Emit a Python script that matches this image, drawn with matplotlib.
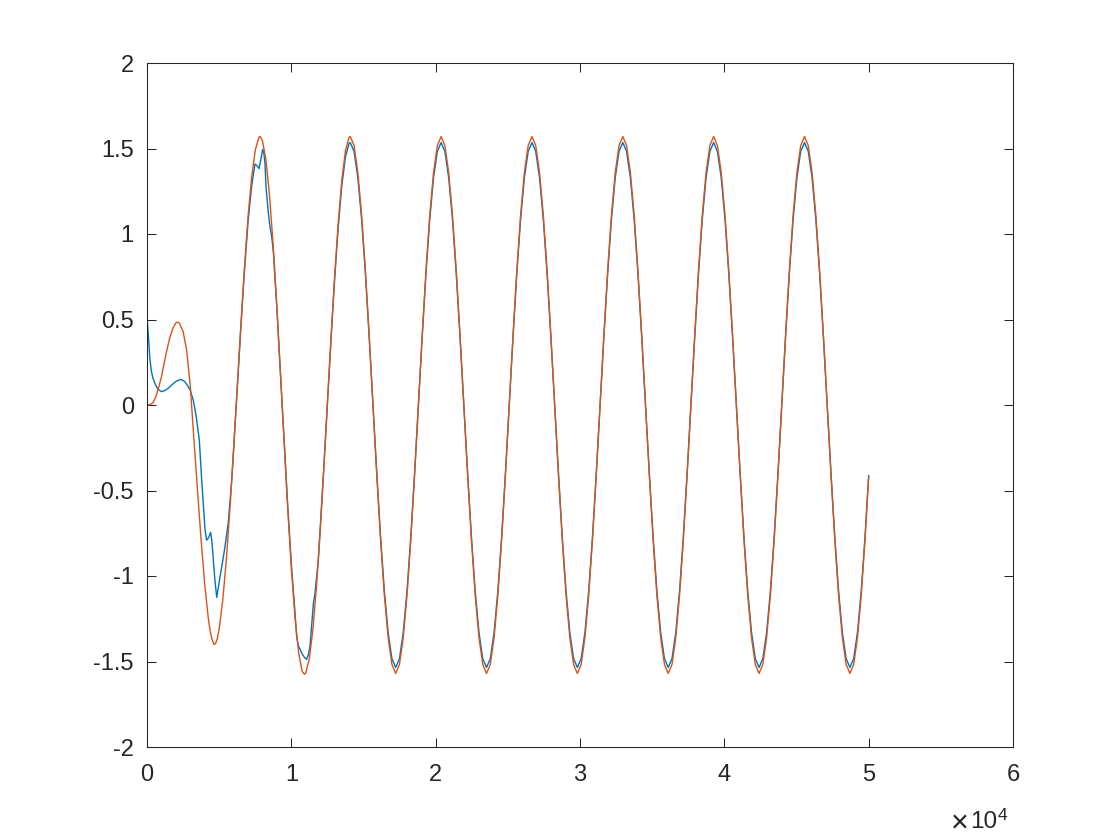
import matplotlib
matplotlib.use("Agg")
import matplotlib.pyplot as plt
import numpy as np

plt.rcParams['font.family'] = ['Liberation Sans', 'DejaVu Sans']

# ---------------- data ----------------
# early (transient) part of the red series
red_t_early = [0, 200, 400, 600, 800, 1000, 1200, 1400, 1600, 1800,
               2000, 2100, 2250, 2500, 2750, 3000, 3250, 3500, 3750, 4000,
               4250, 4375, 4500, 4640, 4750, 4875, 5000, 5250, 5500, 5750, 6000, 6250,
               6500, 6750, 7000, 7250, 7500, 7750, 7830, 8000, 8250, 8500,
               8750, 9000, 9250, 9500, 9750, 10000, 10250, 10500, 10750, 10900,
               11000, 11250, 11500, 11750, 12000, 12250, 12500, 12750, 13000, 13250,
               13500, 13750, 14000]
red_v_early = [0.0, 0.002, 0.012, 0.045, 0.10, 0.165, 0.25, 0.33, 0.40, 0.45,
               0.48, 0.485, 0.478, 0.43, 0.32, 0.11, -0.20, -0.50, -0.79, -1.05,
               -1.25, -1.32, -1.37, -1.40, -1.395, -1.365, -1.31, -1.14, -0.90, -0.60, -0.26, 0.10,
               0.46, 0.80, 1.10, 1.33, 1.49, 1.565, 1.57, 1.546, 1.427, 1.215,
               0.924, 0.572, 0.182, -0.220, -0.606, -0.952, -1.238, -1.446, -1.558, -1.575,
               -1.567, -1.482, -1.308, -1.053, -0.735, -0.374, 0.010, 0.394, 0.754, 1.067,
               1.317, 1.487, 1.566]

# early (transient) part of the blue series
blue_t_early = [0, 50, 100, 200, 300, 400, 550, 750, 1000, 1250,
                1500, 1750, 2000, 2330, 2600, 2800, 3000, 3200, 3400, 3625,
                3790, 4020, 4130, 4270, 4410, 4500, 4600, 4700, 4830, 4950,
                5060, 5250, 5400, 5630, 5870, 6000, 6250, 6500, 6750, 7000,
                7250, 7480, 7620, 7760, 7900, 8010, 8100, 8175, 8245, 8410,
                8520, 8640, 8750, 9000, 9250, 9500, 9750, 10000, 10250, 10370,
                10480, 10720, 10900, 11060, 11180, 11290, 11530, 11640, 11870, 12000,
                12250, 12500, 12750, 13000, 13250, 13500, 13750, 14000]
blue_v_early = [0.52, 0.46, 0.40, 0.27, 0.20, 0.16, 0.125, 0.093, 0.078, 0.085,
                0.10, 0.12, 0.138, 0.15, 0.138, 0.115, 0.085, 0.03, -0.06, -0.205,
                -0.44, -0.73, -0.79, -0.775, -0.745, -0.80, -0.906, -1.02, -1.125, -1.06,
                -1.004, -0.91, -0.829, -0.69, -0.44, -0.26, 0.10, 0.45, 0.78, 1.07,
                1.28, 1.409, 1.40, 1.383, 1.44, 1.495, 1.47, 1.413, 1.277, 1.121,
                1.043, 0.984, 0.90, 0.56, 0.18, -0.21, -0.59, -0.93, -1.21, -1.355,
                -1.404, -1.452, -1.475, -1.487, -1.46, -1.413, -1.16, -1.10, -0.906, -0.72,
                -0.365, 0.01, 0.385, 0.735, 1.04, 1.285, 1.45, 1.53]

# steady oscillation part (shared sample positions)
t_steady = [14083, 14345, 14608, 14870, 15132, 15394, 15657, 15919, 16181, 16443, 16706, 16968,
            17230, 17492, 17755, 18017, 18279, 18541, 18804, 19066, 19328, 19590, 19853, 20115,
            20377, 20639, 20902, 21164, 21426, 21688, 21951, 22213, 22475, 22737, 23000, 23262,
            23524, 23786, 24049, 24311, 24573, 24835, 25098, 25360, 25622, 25884, 26147, 26409,
            26671, 26933, 27196, 27458, 27720, 27982, 28245, 28507, 28769, 29031, 29294, 29556,
            29818, 30080, 30343, 30605, 30867, 31129, 31392, 31654, 31916, 32178, 32441, 32703,
            32965, 33227, 33490, 33752, 34014, 34276, 34539, 34801, 35063, 35325, 35588, 35850,
            36112, 36374, 36637, 36899, 37161, 37423, 37686, 37948, 38210, 38472, 38735, 38997,
            39259, 39521, 39784, 40046, 40308, 40570, 40833, 41095, 41357, 41619, 41882, 42144,
            42406, 42668, 42931, 43193, 43455, 43717, 43980, 44242, 44504, 44766, 45029, 45291,
            45553, 45815, 46078, 46340, 46602, 46864, 47127, 47389, 47651, 47913, 48176, 48438,
            48700, 48962, 49225, 49487, 49749, 50000]

red_v_steady = [
    1.570, 1.517, 1.360, 1.110, 0.785, 0.406, 0.000, -0.406, -0.785, -1.110, -1.360, -1.517,
    -1.570, -1.517, -1.360, -1.110, -0.785, -0.406, 0.000, 0.406, 0.785, 1.110, 1.360, 1.517,
    1.570, 1.517, 1.360, 1.110, 0.785, 0.406, 0.000, -0.406, -0.785, -1.110, -1.360, -1.517,
    -1.570, -1.517, -1.360, -1.110, -0.785, -0.406, 0.000, 0.406, 0.785, 1.110, 1.360, 1.517,
    1.570, 1.517, 1.360, 1.110, 0.785, 0.406, 0.000, -0.406, -0.785, -1.110, -1.360, -1.517,
    -1.570, -1.517, -1.360, -1.110, -0.785, -0.406, 0.000, 0.406, 0.785, 1.110, 1.360, 1.517,
    1.570, 1.517, 1.360, 1.110, 0.785, 0.406, 0.000, -0.406, -0.785, -1.110, -1.360, -1.517,
    -1.570, -1.517, -1.360, -1.110, -0.785, -0.406, 0.000, 0.406, 0.785, 1.110, 1.360, 1.517,
    1.570, 1.517, 1.360, 1.110, 0.785, 0.406, 0.000, -0.406, -0.785, -1.110, -1.360, -1.517,
    -1.570, -1.517, -1.360, -1.110, -0.785, -0.406, 0.000, 0.406, 0.785, 1.110, 1.360, 1.517,
    1.570, 1.517, 1.360, 1.110, 0.785, 0.406, 0.000, -0.406, -0.785, -1.110, -1.360, -1.517,
    -1.570, -1.517, -1.360, -1.110, -0.785, -0.422]

blue_v_steady = [
    1.535, 1.483, 1.329, 1.085, 0.768, 0.397, 0.000, -0.397, -0.768, -1.085, -1.329, -1.483,
    -1.535, -1.483, -1.329, -1.085, -0.768, -0.397, 0.000, 0.397, 0.768, 1.085, 1.329, 1.483,
    1.535, 1.483, 1.329, 1.085, 0.768, 0.397, 0.000, -0.397, -0.768, -1.085, -1.329, -1.483,
    -1.535, -1.483, -1.329, -1.085, -0.768, -0.397, 0.000, 0.397, 0.768, 1.085, 1.329, 1.483,
    1.535, 1.483, 1.329, 1.085, 0.768, 0.397, 0.000, -0.397, -0.768, -1.085, -1.329, -1.483,
    -1.535, -1.483, -1.329, -1.085, -0.768, -0.397, 0.000, 0.397, 0.768, 1.085, 1.329, 1.483,
    1.535, 1.483, 1.329, 1.085, 0.768, 0.397, 0.000, -0.397, -0.768, -1.085, -1.329, -1.483,
    -1.535, -1.483, -1.329, -1.085, -0.768, -0.397, 0.000, 0.397, 0.768, 1.085, 1.329, 1.483,
    1.535, 1.483, 1.329, 1.085, 0.768, 0.397, 0.000, -0.397, -0.768, -1.085, -1.329, -1.483,
    -1.535, -1.483, -1.329, -1.085, -0.768, -0.397, 0.000, 0.397, 0.768, 1.085, 1.329, 1.483,
    1.535, 1.483, 1.329, 1.085, 0.768, 0.397, 0.000, -0.397, -0.768, -1.085, -1.329, -1.483,
    -1.535, -1.483, -1.329, -1.085, -0.768, -0.413]

x_ticks = [0, 10000, 20000, 30000, 40000, 50000, 60000]
x_tick_labels = ['0', '1', '2', '3', '4', '5', '6']
y_ticks = [-2, -1.5, -1, -0.5, 0, 0.5, 1, 1.5, 2]
y_tick_labels = ['-2', '-1.5', '-1', '-0.5', '0', '0.5', '1', '1.5', '2']

# ---------------- plot ----------------
blue_t = blue_t_early + t_steady
blue_v = blue_v_early + blue_v_steady
red_t = red_t_early + t_steady
red_v = red_v_early + red_v_steady

axis_color = '#262626'
fig = plt.figure(figsize=(11.2, 8.4), dpi=100)
ax = fig.add_axes([147 / 1120, 93 / 840, 866 / 1120, 684 / 840])
ax.plot(blue_t, blue_v, color='#0072BD', lw=1.0)
ax.plot(red_t, red_v, color='#D95319', lw=1.0)

ax.set_xlim(0, 60000)
ax.set_ylim(-2, 2)
ax.set_xticks(x_ticks)
ax.set_xticklabels(x_tick_labels)
ax.set_yticks(y_ticks)
ax.set_yticklabels(y_tick_labels)
ax.tick_params(direction='in', length=6.3, width=0.75, colors=axis_color,
               labelsize=17, top=True, right=True)
ax.tick_params(axis='x', pad=12)
ax.tick_params(axis='y', pad=9.5)
for s in ax.spines.values():
    s.set_color(axis_color)
    s.set_linewidth(0.75)

# exponent label "×10^4"
fig.text(951 / 1120, (840 - 832) / 840, '×', fontsize=22, color=axis_color,
         ha='left', va='baseline')
fig.text(970 / 1120, (840 - 828) / 840, '10', fontsize=17.5, color=axis_color,
         ha='left', va='baseline')
fig.text(997.5 / 1120, (840 - 820) / 840, '4', fontsize=12.5, color=axis_color,
         ha='left', va='baseline')

fig.savefig('out.png', dpi=100, facecolor='white')
